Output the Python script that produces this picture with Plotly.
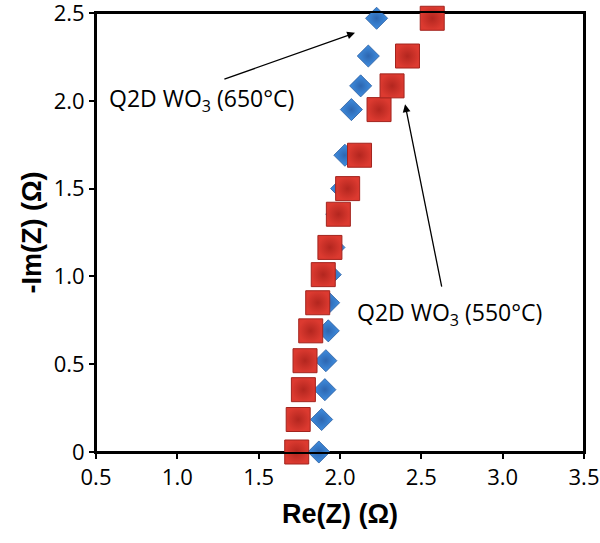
import plotly.graph_objects as go

# Data
im_z = [0.0, 0.185, 0.355, 0.52, 0.69, 0.85, 1.01, 1.165, 1.354, 1.50, 1.69, 1.95, 2.085, 2.255, 2.47]
re_z_550 = [1.734, 1.743, 1.775, 1.785, 1.82, 1.863, 1.897, 1.938, 1.99, 2.047, 2.12, 2.24, 2.32, 2.415, 2.567]
re_z_650 = [1.87, 1.887, 1.907, 1.913, 1.928, 1.93, 1.94, 1.963, 1.98, 2.01, 2.03, 2.07, 2.127, 2.174, 2.225]

x_ticks = [0.5, 1.0, 1.5, 2.0, 2.5, 3.0, 3.5]
x_ticktext = ["0.5", "1.0", "1.5", "2.0", "2.5", "3.0", "3.5"]
y_ticks = [0, 0.5, 1.0, 1.5, 2.0, 2.5]
y_ticktext = ["0", "0.5", "1.0", "1.5", "2.0", "2.5"]

FONT = "Open Sans"
TITLE_FONT = "Liberation Sans"

fig = go.Figure()
fig.add_trace(go.Scatter(
    x=re_z_650, y=im_z, mode="markers", name="Q2D WO3 (650°C)",
    marker=dict(symbol="diamond", size=17, color="#3f8ee0",
                gradient=dict(type="radial", color="#2d66b0"),
                line=dict(color="#2a5c9e", width=0.8)),
    cliponaxis=False,
))
fig.add_trace(go.Scatter(
    x=re_z_550, y=im_z, mode="markers", name="Q2D WO3 (550°C)",
    marker=dict(symbol="square", size=24, color="#dc3a30",
                gradient=dict(type="radial", color="#b3261f"),
                line=dict(color="#a3241e", width=1)),
    cliponaxis=False,
))

axis_common = dict(showline=True, linecolor="black", linewidth=2, mirror=True,
                   showgrid=False, zeroline=False, ticks="outside", ticklen=5,
                   tickcolor="black", tickwidth=1.5, ticklabeloverflow="allow",
                   automargin=False,
                   tickfont=dict(family=FONT, size=22, color="black"))

fig.update_xaxes(range=[0.5, 3.5], tickvals=x_ticks, ticktext=x_ticktext,
                 title=dict(text="<b>Re(Z) (Ω)</b>", font=dict(family=TITLE_FONT, size=27, color="black"), standoff=14),
                 **axis_common)
fig.update_yaxes(range=[0, 2.5], tickvals=y_ticks, ticktext=y_ticktext,
                 title=dict(text="<b>-Im(Z) (Ω)</b>", font=dict(family=TITLE_FONT, size=27, color="black"), standoff=4),
                 **axis_common)

# Plot frame
fig.add_shape(type="rect", xref="paper", yref="paper", x0=0, y0=0, x1=1, y1=1,
              line=dict(color="black", width=2), layer="below")

# Arrows
fig.add_annotation(x=2.092, y=2.387, ax=1.28, ay=2.12, axref="x", ayref="y",
                   xref="x", yref="y", text="", showarrow=True,
                   arrowhead=2, arrowsize=1.2, arrowwidth=1.3, arrowcolor="black")
fig.add_annotation(x=2.40, y=1.98, ax=2.627, ay=0.933, axref="x", ayref="y",
                   xref="x", yref="y", text="", showarrow=True,
                   arrowhead=2, arrowsize=1.2, arrowwidth=1.3, arrowcolor="black")
# Labels
fig.add_annotation(x=0.568, y=2.008, xref="x", yref="y", xanchor="left", yanchor="middle",
                   text="Q2D WO<sub>3</sub> (650°C)", showarrow=False,
                   font=dict(family=FONT, size=23, color="black"))
fig.add_annotation(x=2.09, y=0.79, xref="x", yref="y", xanchor="left", yanchor="middle",
                   text="Q2D WO<sub>3</sub> (550°C)", showarrow=False,
                   font=dict(family=FONT, size=23, color="black"))

fig.update_layout(width=600, height=543, margin=dict(l=96, r=16, t=13, b=91),
                  paper_bgcolor="white", plot_bgcolor="white", showlegend=False)

fig.write_html("out.html", config={"displayModeBar": False},
               post_script="document.body.style.margin='0';document.body.style.overflow='hidden';")
